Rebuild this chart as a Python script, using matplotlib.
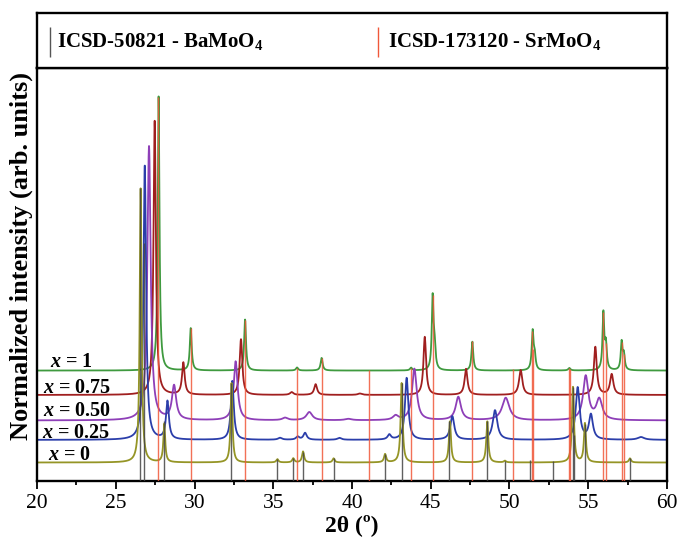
import numpy as np
import matplotlib
matplotlib.use('Agg')
import matplotlib.pyplot as plt
from matplotlib.ticker import MultipleLocator

plt.rcParams['font.family'] = 'Liberation Serif'
plt.rcParams['mathtext.fontset'] = 'custom'
plt.rcParams['mathtext.rm'] = 'Liberation Serif:bold'
plt.rcParams['mathtext.bf'] = 'Liberation Serif:bold'
plt.rcParams['mathtext.it'] = 'Liberation Serif:italic:bold'

# Peaks of each normalized pattern: (2theta, height, fwhm)
peaks_x0 = [(26.58, 1.0, 0.14), (28.08, 0.14, 0.14), (32.35, 0.29, 0.14),
            (35.26, 0.012, 0.16), (36.27, 0.015, 0.16), (36.89, 0.04, 0.16),
            (38.83, 0.015, 0.16), (42.10, 0.03, 0.16), (43.15, 0.29, 0.15),
            (46.22, 0.15, 0.15), (48.59, 0.15, 0.15), (49.71, 0.006, 0.16),
            (54.03, 0.275, 0.15), (54.79, 0.142, 0.15), (57.65, 0.015, 0.16)]
peaks_x025 = [(26.84, 1.0, 0.2), (28.28, 0.139, 0.22), (32.40, 0.215, 0.22),
              (35.43, 0.007, 0.3), (36.55, 0.011, 0.25), (37.02, 0.025, 0.25),
              (39.20, 0.007, 0.3), (42.37, 0.018, 0.25), (43.47, 0.226, 0.25),
              (46.37, 0.086, 0.3), (49.08, 0.108, 0.35), (54.33, 0.19, 0.3),
              (55.17, 0.09, 0.3), (58.35, 0.01, 0.5)]
peaks_x050 = [(27.11, 1.0, 0.25), (28.70, 0.124, 0.32), (32.61, 0.215, 0.3),
              (35.75, 0.009, 0.4), (37.29, 0.03, 0.45), (39.77, 0.005, 0.5),
              (42.77, 0.016, 0.4), (43.96, 0.188, 0.35), (46.75, 0.085, 0.4),
              (49.76, 0.082, 0.55), (54.84, 0.16, 0.4), (55.70, 0.075, 0.45)]
peaks_x075 = [(27.47, 1.0, 0.18), (29.29, 0.117, 0.2), (32.95, 0.203, 0.2),
              (36.17, 0.01, 0.25), (37.69, 0.039, 0.22), (40.50, 0.005, 0.3),
              (44.62, 0.212, 0.2), (47.24, 0.095, 0.22), (50.71, 0.091, 0.25),
              (55.45, 0.175, 0.22), (56.49, 0.075, 0.25)]
peaks_x1 = [(27.72, 1.0, 0.13), (29.76, 0.154, 0.14), (33.21, 0.186, 0.14),
            (36.51, 0.011, 0.16), (38.07, 0.046, 0.15), (43.75, 0.01, 0.16),
            (45.12, 0.26, 0.13), (45.24, 0.08, 0.15), (47.64, 0.105, 0.14),
            (51.47, 0.14, 0.14), (51.60, 0.05, 0.14), (53.80, 0.009, 0.16),
            (55.96, 0.205, 0.13), (56.12, 0.09, 0.14), (57.12, 0.1, 0.13),
            (57.26, 0.055, 0.14)]

compositions = ['1', '0.75', '0.50', '0.25', '0']
offsets = [0.403, 0.314, 0.221, 0.150, 0.0675]
colors = ['#3f9a3f', '#a01f1f', '#8e3fb8', '#2b3eaa', '#959526']
patterns = [peaks_x1, peaks_x075, peaks_x050, peaks_x025, peaks_x0]

# ICSD reference reflections: (2theta, relative intensity)
ref_bamoo4 = [(26.52, 1.0), (26.78, 0.8), (28.08, 0.15), (32.30, 0.29),
              (35.26, 0.012), (36.28, 0.015), (36.89, 0.04), (38.83, 0.015),
              (42.10, 0.03), (43.15, 0.29), (46.18, 0.15), (48.59, 0.15),
              (49.70, 0.006), (51.30, 0.008), (52.76, 0.006), (54.03, 0.275),
              (54.09, 0.1), (54.77, 0.142), (57.65, 0.015)]
ref_srmoo4 = [(27.70, 1.0), (29.77, 0.155), (33.21, 0.186), (36.52, 0.01),
              (38.07, 0.046), (41.10, 0.003), (43.75, 0.01), (45.12, 0.277),
              (47.64, 0.109), (50.20, 0.004), (51.43, 0.146), (51.52, 0.08),
              (53.75, 0.008), (53.84, 0.005), (55.93, 0.215), (56.10, 0.1),
              (57.12, 0.104), (57.24, 0.06)]


def profile(two_theta, peaks):
    y = np.zeros_like(two_theta)
    for pos, h, w in peaks:
        y += h / (1.0 + ((two_theta - pos) / (w / 2.0)) ** 2)
    return y


def draw_xrd():
    fig = plt.figure(figsize=(6.77, 5.41), dpi=100)
    ax = fig.add_axes([0.0547, 0.1109, 0.9305, 0.7634])
    ax_top = fig.add_axes([0.0547, 0.8743, 0.9305, 0.1022])

    tt = np.arange(19.8, 60.2, 0.005)
    for peaks, off, col in zip(patterns, offsets, colors):
        ax.plot(tt, off + profile(tt, peaks), color=col, lw=1.3, zorder=2)

    # reference sticks reach the top of the end-member patterns
    for pos, inten in ref_bamoo4:
        ax.vlines(pos, 0, offsets[4] + inten, color='#444444', lw=1.0,
                  alpha=0.85, zorder=3)
    for pos, inten in ref_srmoo4:
        ax.vlines(pos, 0, offsets[0] + inten, color='#f0583a', lw=1.0,
                  alpha=0.85, zorder=3)

    label_x = [20.83, 20.38, 20.38, 20.33, 20.70]
    label_y = [0.435, 0.339, 0.257, 0.176, 0.095]
    for comp, lx, ly in zip(compositions, label_x, label_y):
        ax.text(lx, ly, r'$\mathit{x}$ = ' + comp, fontsize=14.5, fontweight='bold',
                ha='left', va='center')

    ax.set_xlim(20, 60)
    ax.set_ylim(0, 1.507)
    ax.xaxis.set_major_locator(MultipleLocator(5))
    ax.xaxis.set_minor_locator(MultipleLocator(2.5))
    ax.tick_params(axis='x', which='major', direction='out', length=6, width=1.3,
                   labelsize=15.5, pad=3)
    ax.tick_params(axis='x', which='minor', direction='out', length=3, width=1.3)
    ax.set_yticks([])
    for sp in ax.spines.values():
        sp.set_linewidth(1.7)
    ax.set_xlabel('2θ (º)', fontsize=17, fontweight='bold', labelpad=1)
    fig.text(0.031, 0.527, 'Normalized intensity (arb. units)', rotation=90,
             fontsize=19, fontweight='bold', ha='center', va='center')

    # legend box above the patterns
    ax_top.set_xlim(0, 1)
    ax_top.set_ylim(0, 1)
    ax_top.set_xticks([])
    ax_top.set_yticks([])
    for sp in ax_top.spines.values():
        sp.set_linewidth(1.7)
    ax_top.vlines(0.0206, 0.2, 0.74, color='#555555', lw=1.0)
    ax_top.text(0.0317, 0.38, r'ICSD-50821 - BaMoO$_\mathbf{4}$', fontsize=15,
                fontweight='bold', ha='left', va='baseline')
    ax_top.vlines(0.541, 0.2, 0.74, color='#f0583a', lw=1.0)
    ax_top.text(0.557, 0.38, r'ICSD-173120 - SrMoO$_\mathbf{4}$', fontsize=15,
                fontweight='bold', ha='left', va='baseline')

    fig.savefig('out.png', dpi=100)
    plt.close(fig)
    print("[OK] Saved: out.png")


if __name__ == "__main__":
    draw_xrd()
